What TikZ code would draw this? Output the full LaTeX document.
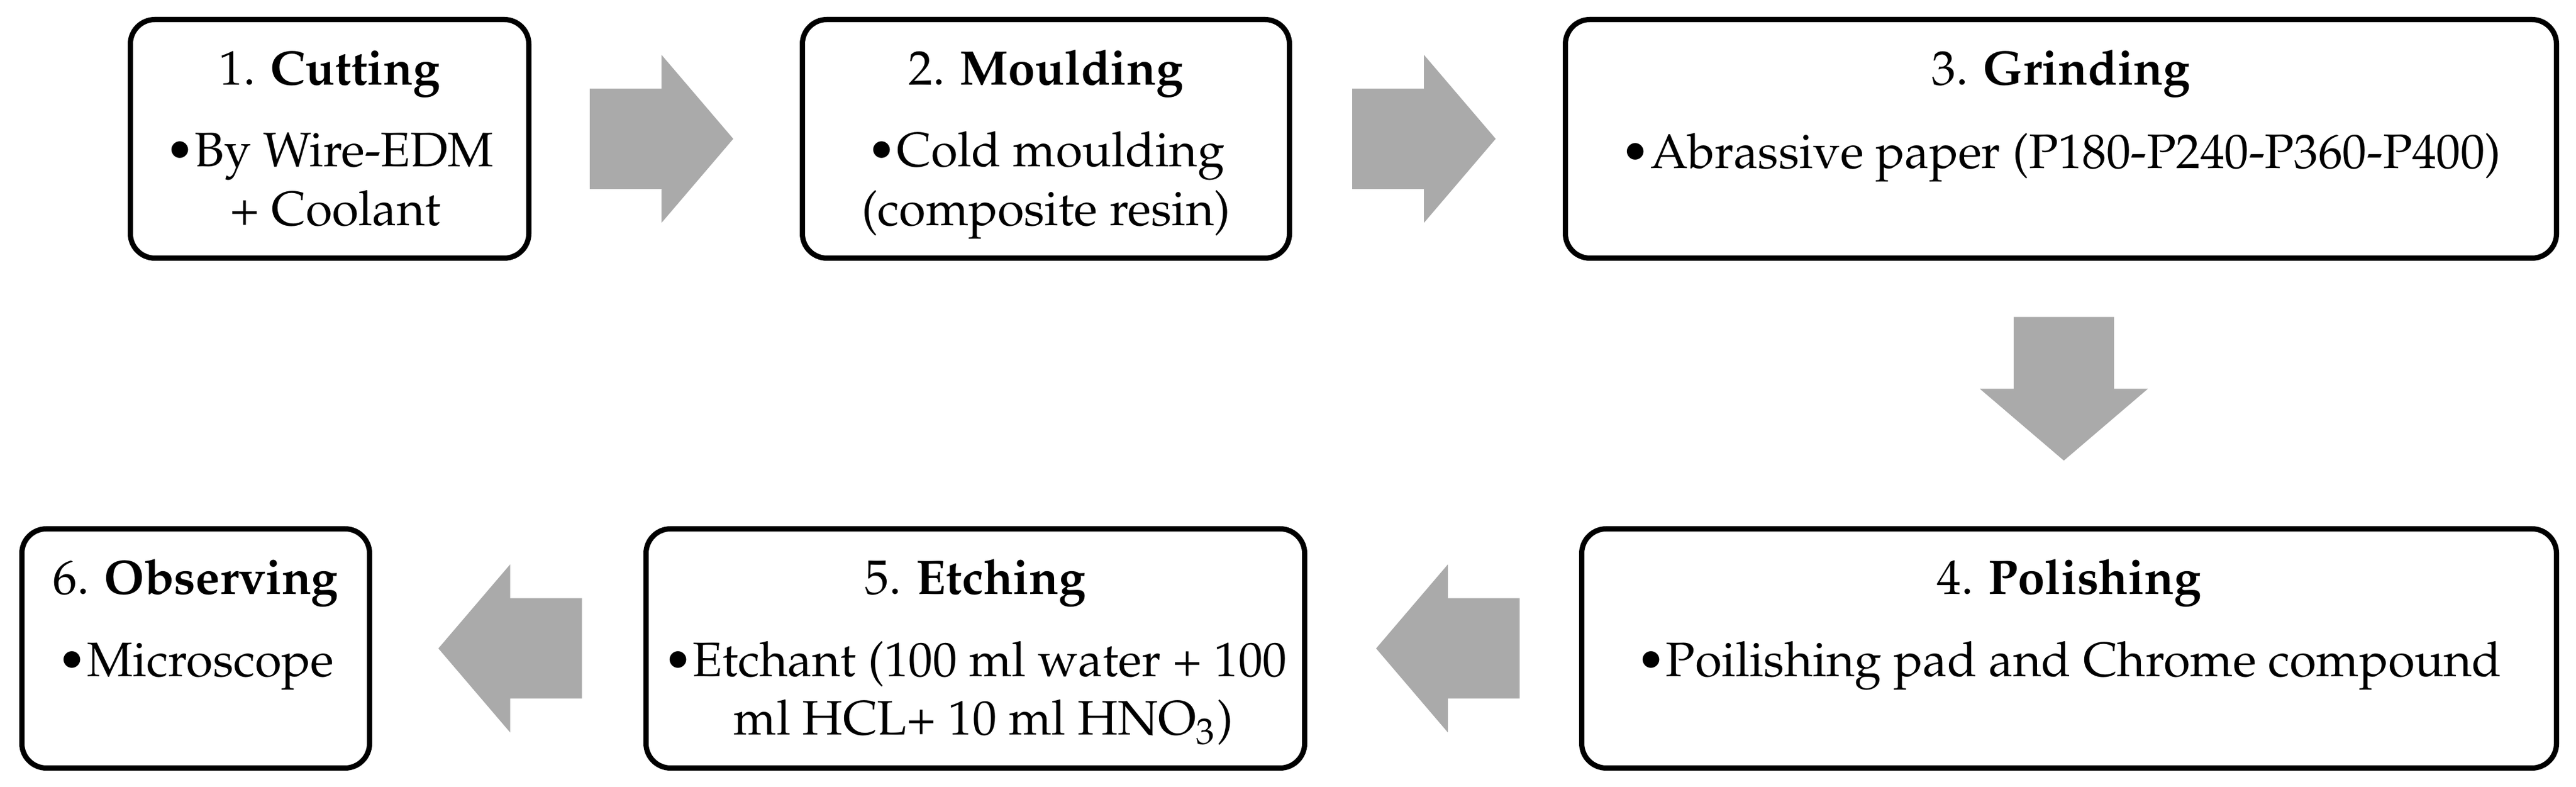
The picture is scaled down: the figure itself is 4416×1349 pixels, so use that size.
\documentclass[tikz,border=0pt]{standalone}
\usepackage[T1]{fontenc}
\usepackage{mathpazo}
\newdimen\px \px=0.12045pt
\definecolor{arrowgray}{RGB}{170,170,170}
\tikzset{
  box/.style={draw=black, line width=9\px, rounded corners=42\px, fill=white, inner sep=0pt, outer sep=0pt},
  txt/.style={anchor=base, inner sep=0pt, outer sep=0pt, font=\fontsize{10}{12}\selectfont},
  arrowfill/.style={fill=arrowgray, draw=none}
}
\newcommand\flowarrow[4]{%
  \path (#1) -- (#2) coordinate[midway] (m#1#2);
  \fill[arrowfill, shift={(m#1#2)}, shift={(#4)}, rotate=#3]
    (-123,86) -- (0,86) -- (0,144) -- (123,0) -- (0,-144) -- (0,-86) -- (-123,-86) -- cycle;
}
\begin{document}
\begin{tikzpicture}[x=\px, y=-\px]
\useasboundingbox (0,0) rectangle (4416,1349);
% boxes
\node[box, minimum width=683\px, minimum height=409\px] (b1) at (565,238) {};
\node[box, minimum width=835\px, minimum height=409\px] (b2) at (1793,238) {};
\node[box, minimum width=1699\px, minimum height=409\px] (b3) at (3533,238) {};
\node[box, minimum width=1671\px, minimum height=410\px] (b4) at (3547,1111.5) {};
\node[box, minimum width=1129\px, minimum height=410\px] (b5) at (1672,1111.5) {};
\node[box, minimum width=596\px, minimum height=410\px] (b6) at (335.5,1111.5) {};
% texts
\node[txt] (t1) at (565,146) {1. \textbf{Cutting}};
\node[txt] (t1a) at (565,286) {\textbullet By Wire-EDM};
\node[txt] (t1b) at (575,387) {+ Coolant};
\node[txt] (t2) at (1793,146) {2. \textbf{Moulding}};
\node[txt] (t2a) at (1793,286) {\textbullet Cold moulding};
\node[txt] (t2b) at (1793,387) {(composite resin)};
\node[txt] (t3) at (3533,146) {3. \textbf{Grinding}};
\node[txt] (t3a) at (3533,289) {\textbullet Abrassive paper (P180-P240-P360-P400)};
\node[txt] (t4) at (3547,1019) {4. \textbf{Polishing}};
\node[txt] (t4a) at (3547,1160) {\textbullet Poilishing pad and Chrome compound};
\node[txt] (t5) at (1672,1019) {5. \textbf{Etching}};
\node[txt] (t5a) at (1672,1160) {\textbullet Etchant (100 ml water + 100};
\node[txt] (t5b) at (1686,1260) {ml HCL+ 10 ml HNO\textsubscript{3})};
\node[txt] (t6) at (335.5,1019) {6. \textbf{Observing}};
\node[txt] (t6a) at (335.5,1160) {\textbullet Microscope};
% arrows
\flowarrow{b1}{b2}{0}{-7,0}
\flowarrow{b2}{b3}{0}{-6,0}
\flowarrow{b3}{b4}{-90}{-2,-8}
\flowarrow{b4}{b5}{180}{8,0}
\flowarrow{b5}{b6}{180}{4,0}
\end{tikzpicture}
\end{document}
